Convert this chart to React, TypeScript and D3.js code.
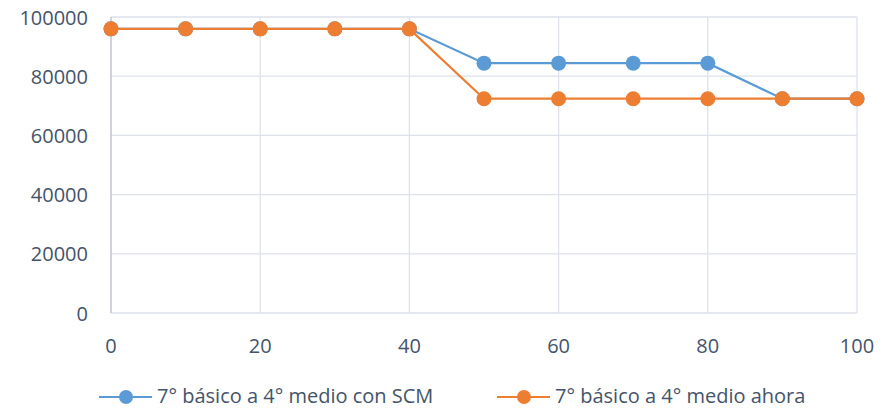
import { useEffect, useRef } from "react";
import * as d3 from "d3";

// x positions shared by both series
const xValues = [0, 10, 20, 30, 40, 50, 60, 70, 80, 90, 100];
const scmValues = [96000, 96000, 96000, 96000, 96000, 84400, 84400, 84400, 84400, 72400, 72400];
const ahoraValues = [96000, 96000, 96000, 96000, 96000, 72400, 72400, 72400, 72400, 72400, 72400];
const seriesNames = ["7° básico a 4° medio con SCM", "7° básico a 4° medio ahora"];
const seriesColors = ["#5B9BD5", "#ED7D31"];
const xTicks = [0, 20, 40, 60, 80, 100];
const yTicks = [0, 20000, 40000, 60000, 80000, 100000];

const W = 891;
const H = 409;
const FONT = "'Open Sans', 'Noto Sans', sans-serif";
const TEXT = "#44546A";

export default function App() {
  const svgRef = useRef<SVGSVGElement>(null);

  useEffect(() => {
    if (!svgRef.current) return;
    const svg = d3.select(svgRef.current);
    svg.selectAll("*").remove();

    const x = d3.scaleLinear().domain([0, 100]).range([111, 857]);
    const y = d3.scaleLinear().domain([0, 100000]).range([313, 17]);

    const g = svg.append("g");

    // gridlines
    g.selectAll(".hgrid")
      .data(yTicks)
      .join("line")
      .attr("x1", x(0))
      .attr("x2", x(100))
      .attr("y1", (d) => y(d))
      .attr("y2", (d) => y(d))
      .attr("stroke", "#DDE2EA")
      .attr("stroke-width", 1.3);
    g.selectAll(".vgrid")
      .data(xTicks.slice(1))
      .join("line")
      .attr("x1", (d) => x(d))
      .attr("x2", (d) => x(d))
      .attr("y1", y(0))
      .attr("y2", y(100000))
      .attr("stroke", "#DDE2EA")
      .attr("stroke-width", 1.3);
    // y axis line sits at x=0
    g.append("line")
      .attr("x1", x(0))
      .attr("x2", x(0))
      .attr("y1", y(0))
      .attr("y2", y(100000))
      .attr("stroke", "#B4BCCB")
      .attr("stroke-width", 1.3);

    // tick labels
    g.selectAll(".ylab")
      .data(yTicks)
      .join("text")
      .attr("x", 88)
      .attr("y", (d) => y(d) + 7.5)
      .attr("text-anchor", "end")
      .attr("font-family", FONT)
      .attr("font-size", "20px")
      .attr("fill", TEXT)
      .text((d) => String(d));
    g.selectAll(".xlab")
      .data(xTicks)
      .join("text")
      .attr("x", (d) => x(d))
      .attr("y", 352.5)
      .attr("text-anchor", "middle")
      .attr("font-family", FONT)
      .attr("font-size", "20px")
      .attr("fill", TEXT)
      .text((d) => String(d));

    const series = [scmValues, ahoraValues];
    const line = d3
      .line<number>()
      .x((_d, i) => x(xValues[i]))
      .y((d) => y(d));

    series.forEach((vals, si) => {
      g.append("path")
        .attr("d", line(vals))
        .attr("fill", "none")
        .attr("stroke", seriesColors[si])
        .attr("stroke-width", 2.2);
      g.selectAll(`.pt${si}`)
        .data(vals)
        .join("circle")
        .attr("cx", (_d, i) => x(xValues[i]))
        .attr("cy", (d) => y(d))
        .attr("r", 7.5)
        .attr("fill", seriesColors[si]);
    });

    // legend
    const legendX = [99, 497];
    seriesNames.forEach((name, si) => {
      const lg = g.append("g").attr("transform", `translate(${legendX[si]},397)`);
      lg.append("line")
        .attr("x1", 0)
        .attr("x2", 53)
        .attr("stroke", seriesColors[si])
        .attr("stroke-width", 2.2);
      lg.append("circle").attr("cx", 27).attr("r", 7).attr("fill", seriesColors[si]);
      lg.append("text")
        .attr("x", 58)
        .attr("y", 6)
        .attr("font-family", FONT)
        .attr("font-size", "20px")
        .attr("fill", TEXT)
        .text(name);
    });
  }, []);

  return (
    <svg
      ref={svgRef}
      width={W}
      height={H}
      style={{ position: "absolute", left: 0, top: 0, background: "#fff" }}
    />
  );
}
